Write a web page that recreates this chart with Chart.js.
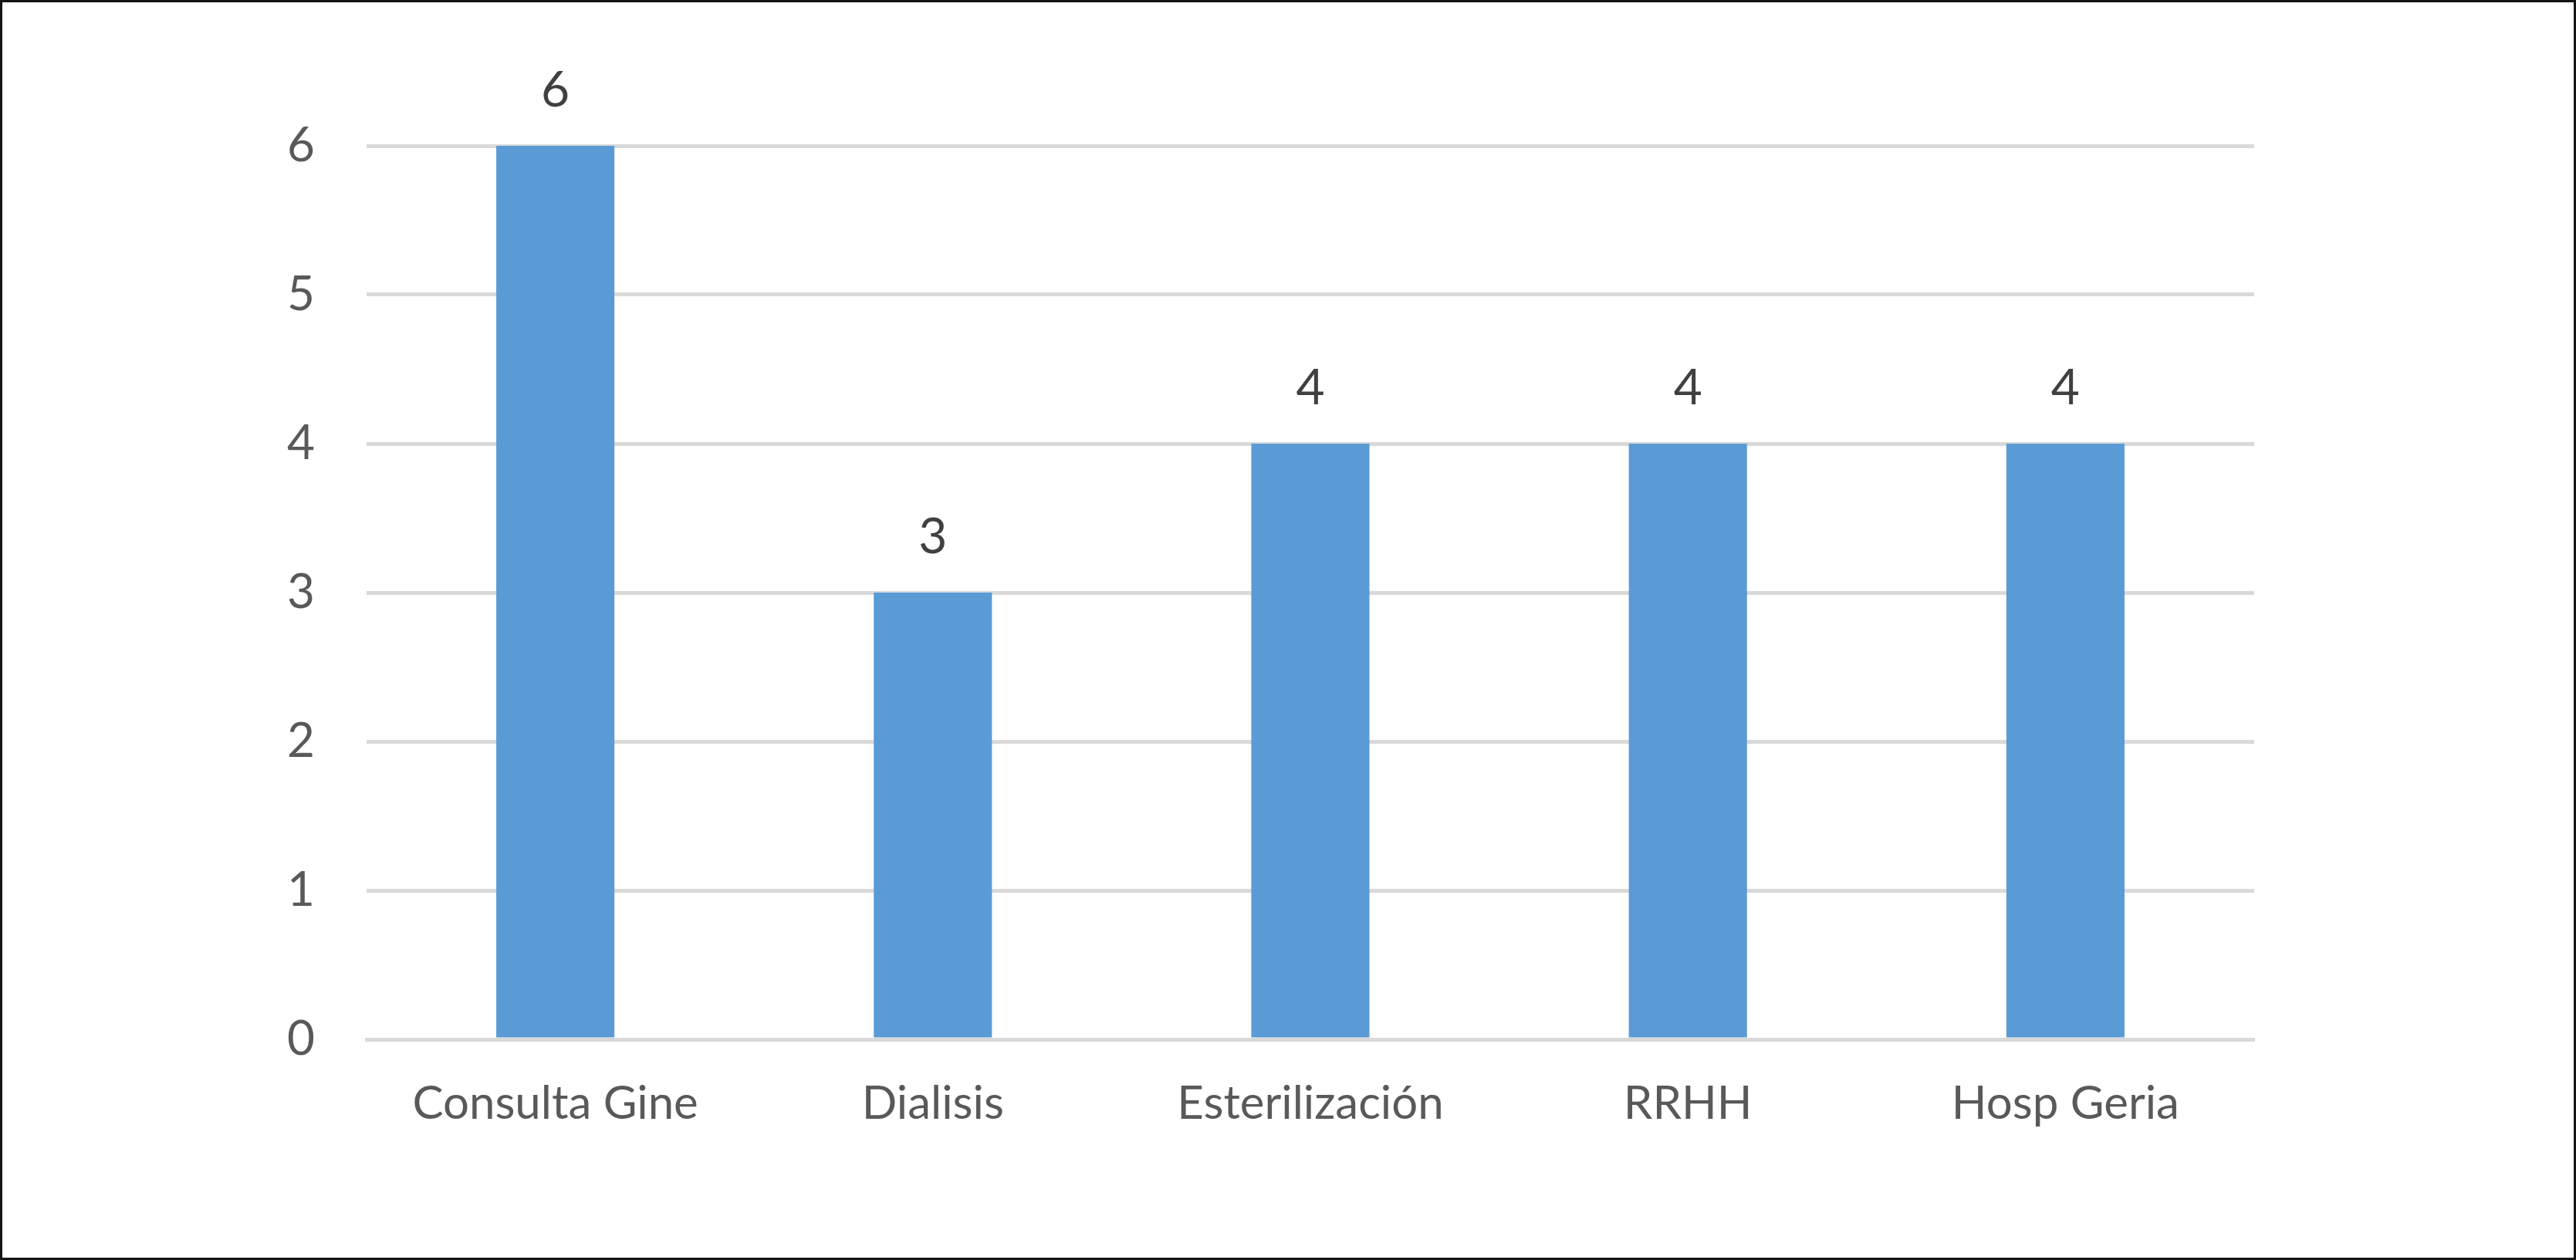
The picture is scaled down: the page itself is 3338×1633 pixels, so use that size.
<!DOCTYPE html>
<html>
<head>
<meta charset="utf-8">
<script src="https://cdn.jsdelivr.net/npm/chart.js@4.4.1/dist/chart.umd.min.js"></script>
<style>
  html, body { margin: 0; padding: 0; background: #fff; }
  #wrap { position: relative; width: 3338px; height: 1633px; }
  #frame { position: absolute; left: 0; top: 0; width: 3338px; height: 1633px;
           box-sizing: border-box; border: 3px solid #141414; pointer-events: none; }
  canvas { position: absolute; left: 0; top: 0; }
</style>
</head>
<body>
<div id="wrap">
  <canvas id="chart" width="3338" height="1633"></canvas>
  <div id="frame"></div>
</div>
<script>
const categories = ['Consulta Gine', 'Dialisis', 'Esterilización', 'RRHH', 'Hosp Geria'];
const values = [6, 3, 4, 4, 4];
const yTicks = [0, 1, 2, 3, 4, 5, 6];

const fontFamily = 'Lato, "Open Sans", sans-serif';

// value labels above each bar
const barLabels = {
    id: 'barLabels',
    afterDatasetsDraw(chart) {
        const ctx = chart.ctx;
        const meta = chart.getDatasetMeta(0);
        ctx.save();
        ctx.font = '64px ' + fontFamily;
        ctx.fillStyle = '#404040';
        ctx.textAlign = 'center';
        ctx.textBaseline = 'middle';
        meta.data.forEach((bar, i) => {
            ctx.fillText(String(values[i]), bar.x, bar.y - 72);
        });
        ctx.restore();
    }
};

new Chart(document.getElementById('chart').getContext('2d'), {
    type: 'bar',
    data: {
        labels: categories,
        datasets: [{
            data: values,
            backgroundColor: '#5b9bd5',
            borderWidth: 0,
            categoryPercentage: 1,
            barPercentage: 0.313
        }]
    },
    options: {
        responsive: false,
        animation: false,
        layout: { padding: { left: 275, right: 417, top: 189, bottom: 86 } },
        plugins: {
            legend: { display: false },
            tooltip: { enabled: false }
        },
        scales: {
            x: {
                grid: { display: false, drawTicks: false },
                border: { display: true, color: '#d9d9d9', width: 5 },
                ticks: {
                    color: '#595959',
                    font: { family: fontFamily, size: 60 },
                    padding: 48,
                    maxRotation: 0
                },
                afterFit(scale) { scale.height = 200; }
            },
            y: {
                min: 0,
                max: 6,
                grid: { color: '#d9d9d9', lineWidth: 5, drawTicks: false },
                border: { display: false },
                afterBuildTicks(scale) { scale.ticks = yTicks.map(v => ({ value: v })); },
                ticks: {
                    color: '#595959',
                    font: { family: fontFamily, size: 62 },
                    padding: 67
                },
                afterFit(scale) { scale.width = 200; }
            }
        }
    },
    plugins: [barLabels]
});
</script>
</body>
</html>
